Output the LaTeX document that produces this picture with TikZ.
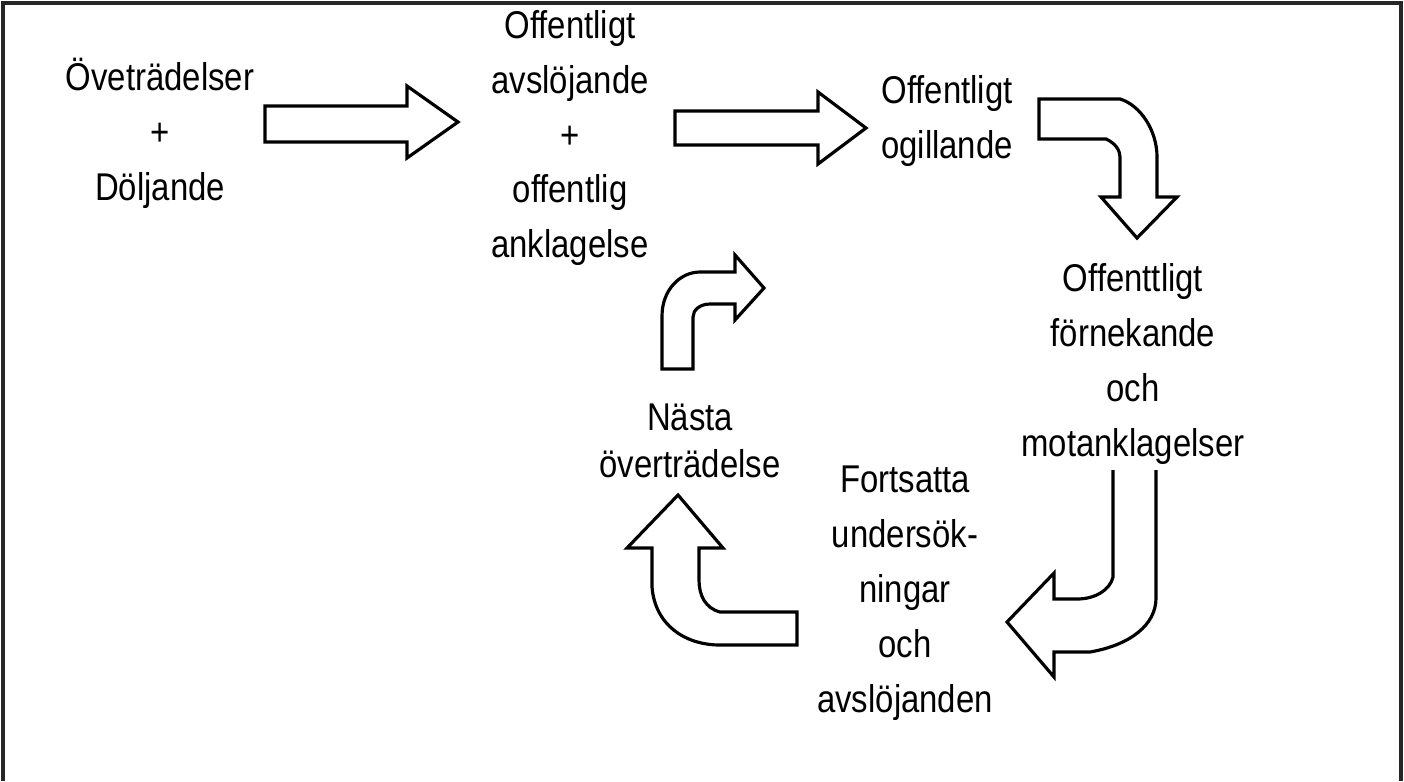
\documentclass[tikz,border=0pt]{standalone}
\usepackage{fontspec}
\setmainfont{Liberation Sans}[FakeStretch=0.85]
\begin{document}
\begin{tikzpicture}[x=0.01cm,y=-0.01cm,
  lbl/.style={align=center,inner sep=0pt,font=\fontsize{11pt}{15.6pt}\selectfont},
  blockarrow/.style={draw=black,line width=0.9pt,fill=white,line join=miter}]
\useasboundingbox (0,0) rectangle (1404,781);
\fill[white] (0,0) rectangle (1404,781);
\draw[line width=1pt,black!85] (3,781) -- (3,3) -- (1401,3) -- (1401,781);

% block arrows
\draw[blockarrow] (265,106) -- (407,106) -- (407,86) -- (458,122) -- (407,158) -- (407,142) -- (265,142) -- cycle;
\draw[blockarrow] (675,111) -- (818,111) -- (818,92) -- (866,128) -- (818,164) -- (818,145) -- (675,145) -- cycle;
\draw[blockarrow] (1039,99) -- (1120,99) .. controls (1140,105) and (1157,130) .. (1157,157) -- (1157,197) -- (1177,197) -- (1137,238) -- (1101,197) -- (1120,197) -- (1120,157) .. controls (1120,150) and (1115,143) .. (1106,139) -- (1039,139) -- cycle;
\draw[blockarrow] (1156,470) -- (1156,598) .. controls (1156,625) and (1130,645) .. (1090,652) -- (1054,652) -- (1054,677) -- (1007,622) -- (1054,573) -- (1054,599) -- (1077,599) .. controls (1095,599) and (1110,590) .. (1113,577) -- (1113,470);
\draw[blockarrow] (797,612) -- (797,645) -- (720,645) .. controls (685,645) and (655,625) .. (652,587) -- (652,548) -- (627,548) -- (678,495) -- (723,548) -- (699,548) -- (699,580) .. controls (699,595) and (705,608) .. (720,612) -- cycle;
\draw[blockarrow] (662,369) -- (662,316) .. controls (662,290) and (680,272) .. (700,272) -- (735,272) -- (735,255) -- (764,288) -- (735,320) -- (735,304) -- (710,304) .. controls (700,304) and (693,310) .. (693,317) -- (693,369) -- cycle;

% labels
\node[lbl] (n1) at (160,133) {Öveträdelser\\+\\Döljande};
\node[lbl] (n2) at (570,138) {Offentligt\\avslöjande\\+\\offentlig\\anklagelse};
\node[lbl] (n3) at (947,121) {Offentligt\\ogillande};
\node[lbl] (n4) at (1133,364) {Offenttligt\\förnekande\\och\\motanklagelser};
\node[lbl] (n5) at (905,593) {Fortsatta\\undersök-\\ningar\\och\\avslöjanden};
\node[lbl,font=\fontsize{11pt}{13.2pt}\selectfont] (n6) at (690,441) {Nästa\\överträdelse};
\end{tikzpicture}
\end{document}
